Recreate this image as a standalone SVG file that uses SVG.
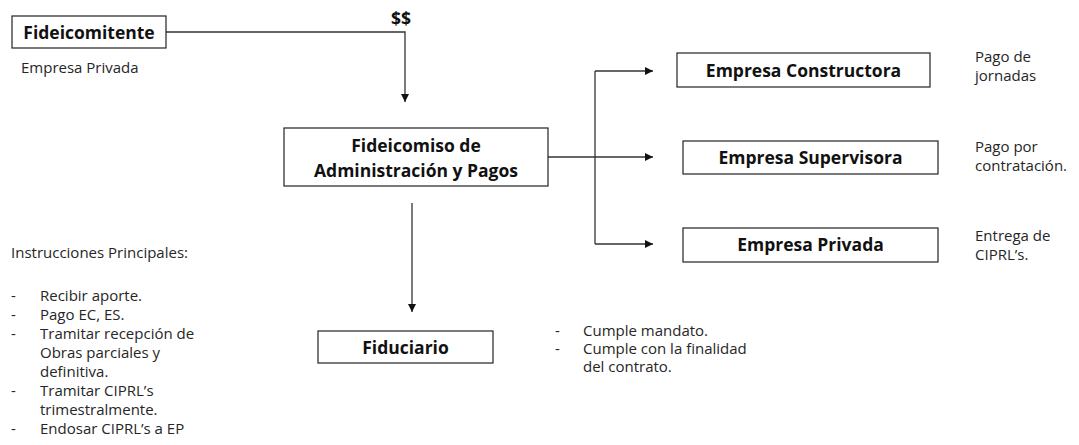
<svg xmlns="http://www.w3.org/2000/svg" width="1079" height="445" viewBox="0 0 1079 445">
<style>
.box{fill:#fff;stroke:#222;stroke-width:1.2}
.t{font-family:"Open Sans","Liberation Sans",sans-serif;font-size:15px;fill:#262626}
.b{font-family:"Open Sans","Liberation Sans",sans-serif;font-size:17.5px;font-weight:bold;fill:#111;text-anchor:middle}
.ln{fill:none;stroke:#333;stroke-width:1.3}
</style>
<defs>
<marker id="ah" viewBox="0 0 10 10" refX="10" refY="5" markerWidth="8" markerHeight="8" markerUnits="userSpaceOnUse" orient="auto">
<path d="M0,0 L10,5 L0,10 z" fill="#111"/>
</marker>
</defs>
<rect width="1079" height="445" fill="#fff"/>
<g id="connectors">
<path class="ln" d="M166,32 H405 V102" marker-end="url(#ah)"/>
<path class="ln" d="M548,157 H653" marker-end="url(#ah)"/>
<path class="ln" d="M595,71 V244"/>
<path class="ln" d="M595,71 H653" marker-end="url(#ah)"/>
<path class="ln" d="M595,244 H653" marker-end="url(#ah)"/>
<path class="ln" d="M412,203 V312" marker-end="url(#ah)"/>
<text x="401" y="25" class="b">$$</text>
</g>
<g id="fideicomitente">
<rect class="box" x="12" y="16" width="154" height="32"/>
<text x="89" y="38.5" class="b">Fideicomitente</text>
<text x="21" y="73" class="t">Empresa Privada</text>
</g>
<g id="fideicomiso">
<rect class="box" x="284" y="128" width="264" height="58"/>
<text x="416" y="152" class="b">Fideicomiso de</text>
<text x="416" y="177" class="b">Administración y Pagos</text>
</g>
<g id="constructora">
<rect class="box" x="677" y="53" width="253" height="34"/>
<text x="803.5" y="76.5" class="b">Empresa Constructora</text>
<text x="975" y="62" class="t">Pago de</text>
<text x="975" y="81" class="t">jornadas</text>
</g>
<g id="supervisora">
<rect class="box" x="683" y="141" width="255" height="33"/>
<text x="810.5" y="164" class="b">Empresa Supervisora</text>
<text x="975" y="152" class="t">Pago por</text>
<text x="975" y="171" class="t">contratación.</text>
</g>
<g id="privada">
<rect class="box" x="683" y="228" width="255" height="34"/>
<text x="810.5" y="251" class="b">Empresa Privada</text>
<text x="975" y="241" class="t">Entrega de</text>
<text x="975" y="260" class="t">CIPRL’s.</text>
</g>
<g id="fiduciario">
<rect class="box" x="318" y="331" width="175" height="32"/>
<text x="405.5" y="353.5" class="b">Fiduciario</text>
<text x="555" y="336" class="t">-</text>
<text x="583" y="336" class="t">Cumple mandato.</text>
<text x="555" y="354" class="t">-</text>
<text x="583" y="354" class="t">Cumple con la finalidad</text>
<text x="583" y="372" class="t">del contrato.</text>
</g>
<g id="instrucciones">
<text x="11" y="258" class="t">Instrucciones Principales:</text>
<text x="11" y="301" class="t">-</text><text x="40" y="301" class="t">Recibir aporte.</text>
<text x="11" y="320" class="t">-</text><text x="40" y="320" class="t">Pago EC, ES.</text>
<text x="11" y="339" class="t">-</text><text x="40" y="339" class="t">Tramitar recepción de</text>
<text x="40" y="358" class="t">Obras parciales y</text>
<text x="40" y="377" class="t">definitiva.</text>
<text x="11" y="396" class="t">-</text><text x="40" y="396" class="t">Tramitar CIPRL’s</text>
<text x="40" y="415" class="t">trimestralmente.</text>
<text x="11" y="434" class="t">-</text><text x="40" y="434" class="t">Endosar CIPRL’s a EP</text>
</g>
</svg>
